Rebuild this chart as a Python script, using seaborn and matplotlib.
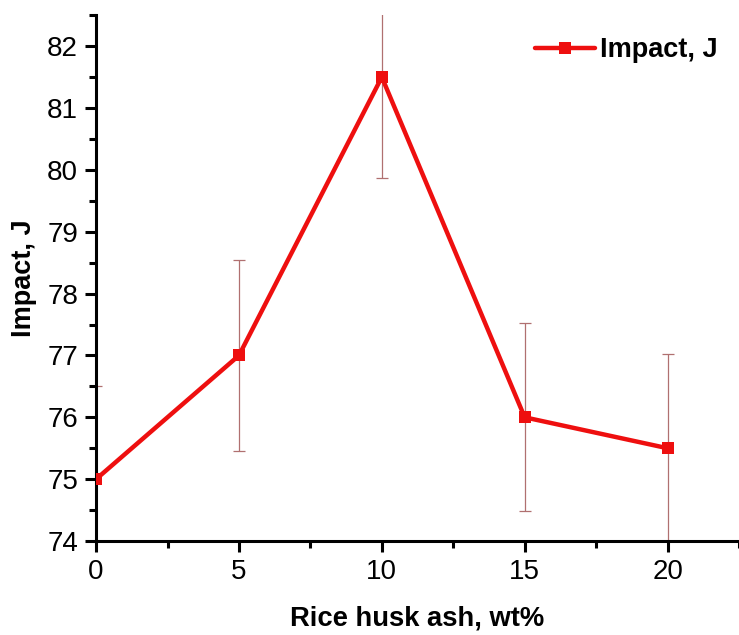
import matplotlib
matplotlib.use("Agg")
import matplotlib.pyplot as plt
import seaborn as sns
import pandas as pd
from matplotlib.ticker import MultipleLocator

rha = [0, 5, 10, 15, 20]
impact = [75.0, 77.0, 81.5, 76.0, 75.5]
err = [1.5, 1.55, 1.63, 1.52, 1.52]

sns.set_style("ticks")
plt.rcParams['font.family'] = ['Liberation Sans', 'DejaVu Sans']

fig = plt.figure(figsize=(7.39, 6.35), dpi=100)
ax = fig.add_axes([0.130, 0.148, 0.870, 0.828])

df = pd.DataFrame({"x": rha, "y": impact})
ax.errorbar(rha, impact, yerr=err, fmt="none", ecolor="#b07070", elinewidth=0.9,
            capsize=4, capthick=0.9, zorder=2)
sns.lineplot(data=df, x="x", y="y", ax=ax, color="#ee0f0f", linewidth=3.2,
             marker="s", markersize=9, markeredgewidth=0, label="Impact, J", zorder=3)

ax.set_xlim(0, 22.5)
ax.set_ylim(74, 82.5)
ax.xaxis.set_major_locator(MultipleLocator(5))
ax.xaxis.set_minor_locator(MultipleLocator(2.5))
ax.yaxis.set_major_locator(MultipleLocator(1))
ax.yaxis.set_minor_locator(MultipleLocator(0.5))

for s in ["top", "right"]:
    ax.spines[s].set_visible(False)
for s in ["left", "bottom"]:
    ax.spines[s].set_linewidth(2.2)
    ax.spines[s].set_color("black")

ax.tick_params(which="major", direction="out", length=8, width=2.2, labelsize=20,
               pad=5, colors="black")
ax.tick_params(which="minor", direction="out", length=5, width=2.2, colors="black")

ax.set_xlabel("Rice husk ash, wt%", fontsize=19.7, fontweight="bold", labelpad=15,
              color="black")
ax.set_ylabel("Impact, J", fontsize=19.5, fontweight="bold", labelpad=7, color="black")

leg = ax.legend(loc="upper right", frameon=False, fontsize=19.5, handlelength=2.2,
                handletextpad=0.2, bbox_to_anchor=(1.005, 1.005))
for t in leg.get_texts():
    t.set_fontweight("bold")
    t.set_color("black")

fig.savefig("out.png", dpi=100)
